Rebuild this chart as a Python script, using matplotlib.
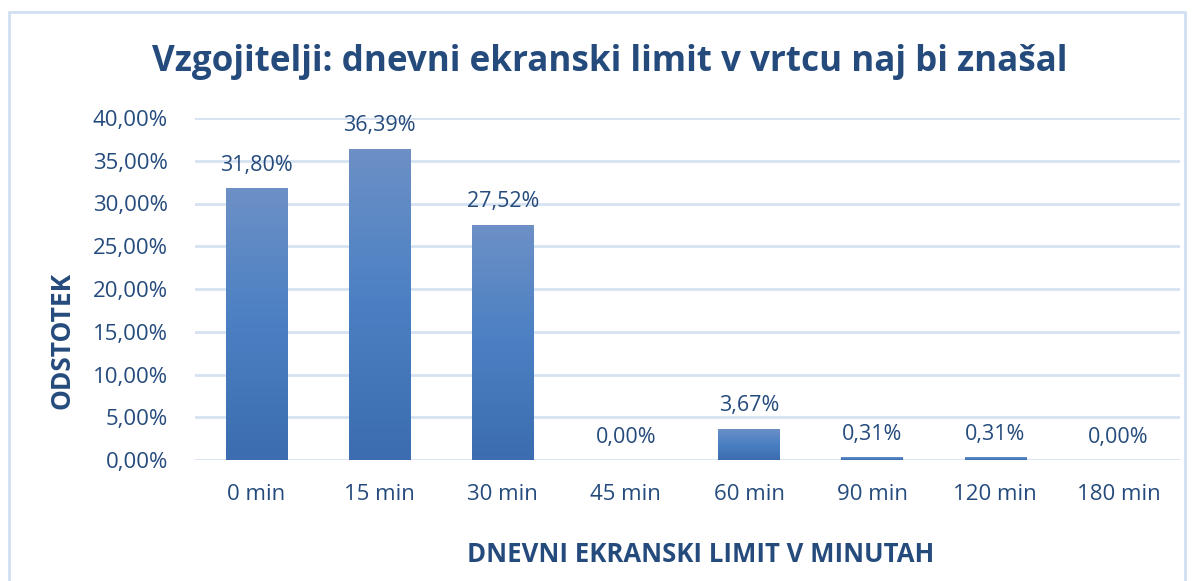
import numpy as np
import matplotlib.pyplot as plt
from matplotlib.ticker import FuncFormatter
from matplotlib.colors import LinearSegmentedColormap
from matplotlib.patches import Rectangle

plt.rcParams['font.family'] = ['Open Sans', 'DejaVu Sans']

kategorije = ['0 min', '15 min', '30 min', '45 min', '60 min', '90 min', '120 min', '180 min']
odstotki = [31.80, 36.39, 27.52, 0.00, 3.67, 0.31, 0.31, 0.00]

modra = '#254b7d'
mreza = '#d6e2f2'

fig = plt.figure(figsize=(11.94, 5.81), dpi=100)
ax = fig.add_axes([195 / 1194, 1 - 460 / 581, 985 / 1194, 342 / 581])

# okvir grafa
fig.patches.append(Rectangle((9 / 1194, -0.1), 1176 / 1194, 1.1 - 12 / 581,
                             transform=fig.transFigure, fill=False,
                             edgecolor='#d0e0f2', linewidth=2))

x = np.arange(len(kategorije))
stolpci = ax.bar(x, odstotki, width=0.5, color='#4a7ebf', zorder=2)

# gradient v stolpcih
grad = LinearSegmentedColormap.from_list('g', ['#3b6db0', '#4a80c3', '#6d90c6'])
for s in stolpci:
    if s.get_height() <= 0:
        continue
    x0, w, h = s.get_x(), s.get_width(), s.get_height()
    im = ax.imshow(np.linspace(0, 1, 256).reshape(-1, 1), cmap=grad, origin='lower',
                   extent=[x0, x0 + w, 0, h], aspect='auto', zorder=3)
    im.set_clip_path(s)

for xi, v in zip(x, odstotki):
    ax.annotate(f'{v:.2f}%'.replace('.', ','), (xi, v), xytext=(0, 9),
                textcoords='offset points', ha='center', va='bottom',
                fontsize=15.5, color=modra)

ax.set_xlim(-0.5, len(kategorije) - 0.5)
ax.set_ylim(0, 40)
ax.set_yticks(np.arange(0, 41, 5))
ax.yaxis.set_major_formatter(FuncFormatter(lambda v, p: f'{v:.2f}%'.replace('.', ',')))
ax.set_xticks(x)
ax.set_xticklabels(kategorije)
ax.grid(axis='y', color=mreza, linewidth=2, zorder=0)
ax.set_axisbelow(True)
for sp in ax.spines.values():
    sp.set_visible(False)
ax.tick_params(axis='both', length=0, labelsize=16, colors=modra)
ax.tick_params(axis='y', pad=19.5)
ax.tick_params(axis='x', pad=17)

fig.text(610 / 1194, 1 - 62 / 581, 'Vzgojitelji: dnevni ekranski limit v vrtcu naj bi znašal',
         ha='center', va='center', fontsize=25.2, fontweight='bold', color=modra)
fig.text(62 / 1194, 1 - 340 / 581, 'ODSTOTEK', rotation=90, ha='center', va='center',
         fontsize=19, fontweight='bold', color=modra)
fig.text(701 / 1194, 1 - 554 / 581, 'DNEVNI EKRANSKI LIMIT V MINUTAH', ha='center',
         va='center', fontsize=18.5, fontweight='bold', color=modra)

fig.savefig('out.png', dpi=100)
